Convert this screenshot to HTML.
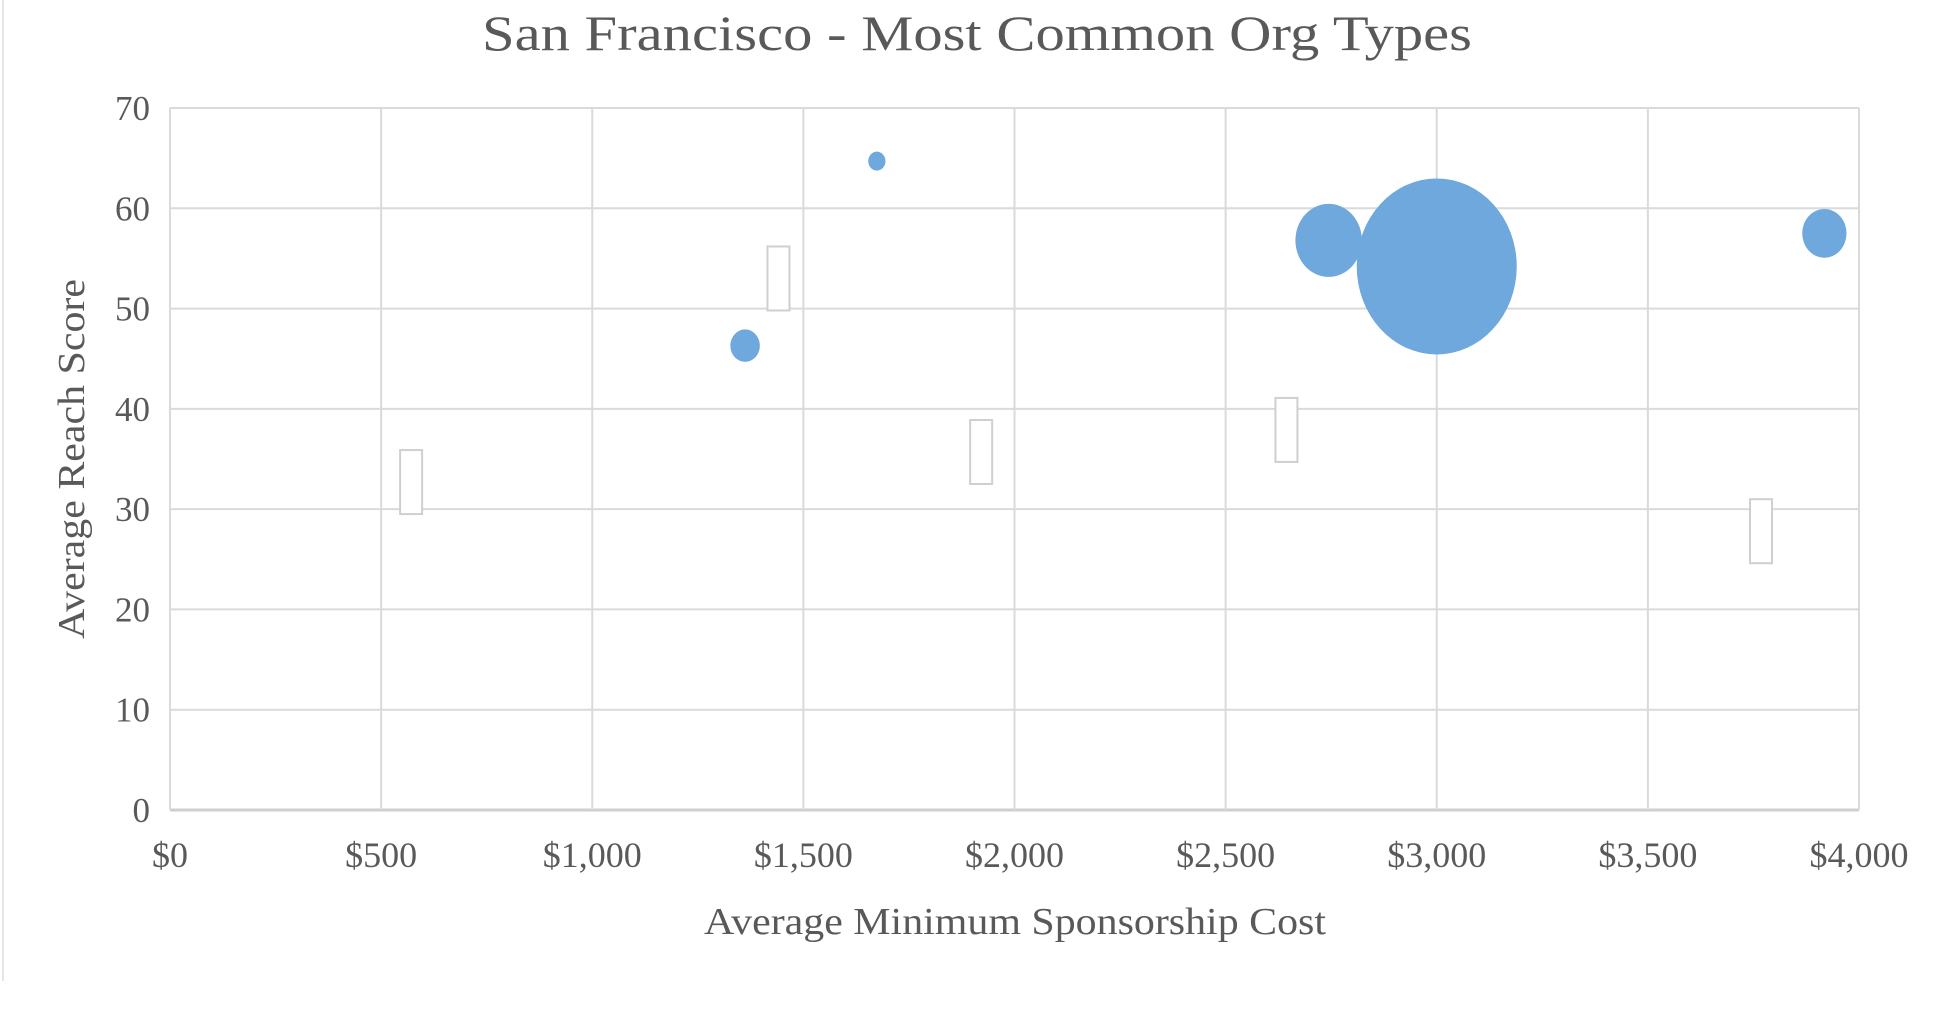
<!DOCTYPE html>
<html><head><meta charset="utf-8"><style>
html,body{margin:0;padding:0;background:#fff;}
svg{display:block;}
text{font-family:"Liberation Serif",serif;fill:#595959;}
</style></head><body>
<svg id="chart" width="1947" height="1035" viewBox="0 0 1947 1035">
<rect x="0" y="0" width="1947" height="1035" fill="#fff"/>
<line x1="3" y1="0" x2="3" y2="981" stroke="#e6e6e6" stroke-width="2"/>
<text x="977" y="50" font-size="50" text-anchor="middle" textLength="990" lengthAdjust="spacingAndGlyphs">San Francisco - Most Common Org Types</text>
<g id="grid"></g>
<g id="labels"></g>
<g id="marks"></g>
<text x="1015" y="934" font-size="38" text-anchor="middle" textLength="622" lengthAdjust="spacingAndGlyphs">Average Minimum Sponsorship Cost</text>
<text transform="translate(84,459) rotate(-90)" font-size="38" text-anchor="middle" textLength="360" lengthAdjust="spacingAndGlyphs">Average Reach Score</text>
</svg>
<script>
const xCost = [1362, 1674, 2744, 3000, 3918];
const yReach = [46.3, 64.7, 56.8, 54.2, 57.5];
const bubbleSize = [144, 49, 729, 4225, 324];
const labelX = [571, 1441, 1921, 2644, 3768];
const labelY = [32.7, 53, 35.7, 37.9, 27.8];
const xTicks = [0, 500, 1000, 1500, 2000, 2500, 3000, 3500, 4000];
const xTickLabels = ["$0","$500","$1,000","$1,500","$2,000","$2,500","$3,000","$3,500","$4,000"];
const yTicks = [0, 10, 20, 30, 40, 50, 60, 70];

const NS = "http://www.w3.org/2000/svg";
const X0 = 170, X1 = 1859, Y0 = 810, Y1 = 108;
const xs = v => X0 + (v - 0) / 4000 * (X1 - X0);
const ys = v => Y0 - v / 70 * (Y0 - Y1);
function mk(tag, attrs, parent) {
  const e = document.createElementNS(NS, tag);
  for (const k in attrs) e.setAttribute(k, attrs[k]);
  parent.appendChild(e);
  return e;
}
const grid = document.getElementById('grid');
const labels = document.getElementById('labels');
const marks = document.getElementById('marks');

yTicks.forEach(t => {
  const l = mk('line', {x1: X0, x2: X1, y1: ys(t), y2: ys(t), stroke: t === 0 ? '#cfcfcf' : '#dadada', 'stroke-width': t === 0 ? 3 : 2}, grid);
  
  
  const tx = mk('text', {x: 150, y: ys(t) + 12, 'font-size': 35, 'text-anchor': 'end'}, grid);
  tx.textContent = String(t);
  
  
});
xTicks.forEach((t, i) => {
  const l = mk('line', {x1: xs(t), x2: xs(t), y1: Y1, y2: Y0, stroke: '#dadada', 'stroke-width': 2}, grid);
  
  
  const tx = mk('text', {x: xs(t), y: 867, 'font-size': 36, 'text-anchor': 'middle'}, grid);
  tx.textContent = xTickLabels[i];
  
  
});
labelX.forEach((v, i) => {
  const r = mk('rect', {x: xs(v) - 11, y: ys(labelY[i]) - 32, width: 22, height: 64, fill: '#fff', stroke: '#cfcfcf', 'stroke-width': 2}, labels);
  
  
});
const maxSize = Math.max(...bubbleSize);
xCost.forEach((v, i) => {
  const k = Math.sqrt(bubbleSize[i] / maxSize);
  const c = mk('ellipse', {cx: xs(v), cy: ys(yReach[i]), rx: 80 * k, ry: 88 * k, fill: '#6fa8dc'}, marks);
  
  
});
</script>
</body></html>
